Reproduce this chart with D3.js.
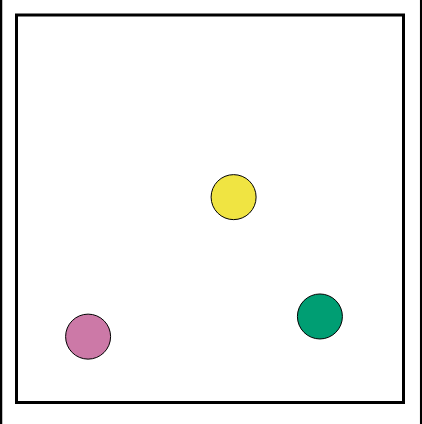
<!DOCTYPE html>
<html><head><meta charset="utf-8">
<script src="https://cdn.jsdelivr.net/npm/d3@7"></script>
<style>html,body{margin:0;padding:0;background:#fff;}svg{display:block;}</style>
</head><body>
<script>
const names = ["yellow", "green", "pink"];
const xValues = [5.61, 7.84, 1.85];
const yValues = [5.30, 2.22, 1.70];
const colors = ["#f0e442", "#009e73", "#cc79a7"];

(function () {
const W = 422, H = 424;
const mLeft = 16.5, mRight = 403.5, mTop = 15, mBottom = 402.5;
const svg = d3.select("body").append("svg").attr("width", W).attr("height", H);

svg.append("line").attr("x1", 1).attr("x2", 1).attr("y1", 0).attr("y2", H).attr("stroke", "#000").attr("stroke-width", 2.5);
svg.append("line").attr("x1", 421.2).attr("x2", 421.2).attr("y1", 0).attr("y2", H).attr("stroke", "#000").attr("stroke-width", 2.5);

const x = d3.scaleLinear().domain([0, 10]).range([mLeft, mRight]);
const y = d3.scaleLinear().domain([0, 10]).range([mBottom, mTop]);

svg.append("rect").attr("x", mLeft).attr("y", mTop).attr("width", mRight - mLeft).attr("height", mBottom - mTop)
  .attr("fill", "none").attr("stroke", "#000").attr("stroke-width", 3);

svg.selectAll("circle.pt").data(names).enter().append("circle").attr("class", "pt")
  .attr("cx", (d, i) => x(xValues[i])).attr("cy", (d, i) => y(yValues[i]))
  .attr("r", 22.5).attr("fill", (d, i) => colors[i]).attr("stroke", "#000").attr("stroke-width", 1);
})();
</script>
</body></html>
